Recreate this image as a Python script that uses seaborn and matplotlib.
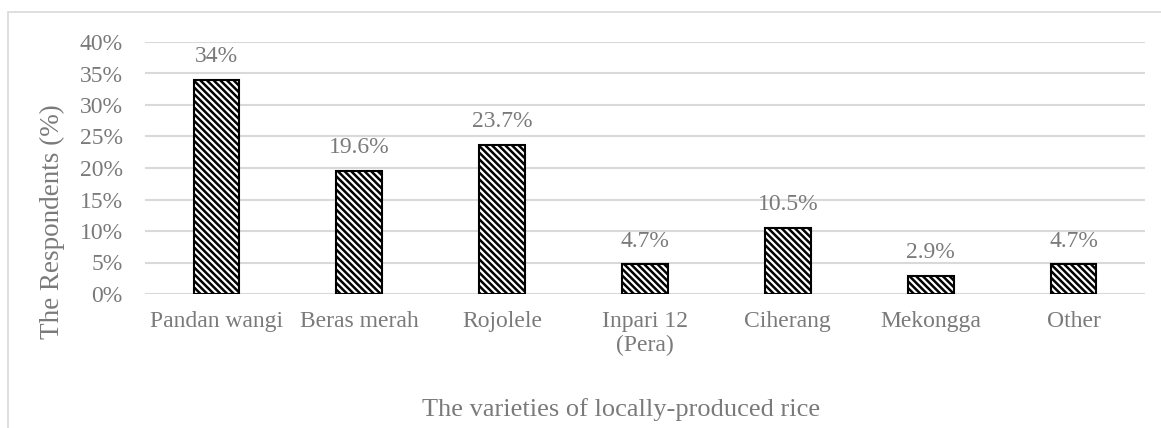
import matplotlib
matplotlib.use("Agg")
import matplotlib.pyplot as plt
import seaborn as sns
import pandas as pd
from matplotlib.patches import Rectangle

categories = ["Pandan wangi", "Beras merah", "Rojolele", "Inpari 12\n(Pera)", "Ciherang", "Mekongga", "Other"]
values = [34.0, 19.6, 23.7, 4.7, 10.5, 2.9, 4.7]
labels = ["34%", "19.6%", "23.7%", "4.7%", "10.5%", "2.9%", "4.7%"]
yticks = [0, 5, 10, 15, 20, 25, 30, 35, 40]

sns.set_theme(style="white")
plt.rcParams['font.family'] = ['Liberation Serif', 'DejaVu Serif']
plt.rcParams['hatch.linewidth'] = 1.8
plt.rcParams['hatch.color'] = 'black'

df = pd.DataFrame({"cat": categories, "val": values})

fig = plt.figure(figsize=(11.61, 4.28), dpi=100)
ax = fig.add_axes([145/1161, 1 - 294/428, 1000/1161, (294-42)/428])

sns.barplot(data=df, x="cat", y="val", ax=ax, color="white", width=0.32,
            edgecolor="black", linewidth=1.5, hatch="\\\\\\\\\\", saturation=1)

txt = "#7a7a7a"
ax.set_ylim(0, 40)
ax.set_xlim(-0.5, len(categories) - 0.5)
ax.set_yticks(yticks)
ax.set_yticklabels([f"{t}%" for t in yticks])
ax.yaxis.grid(True, color="#d9d9d9", linewidth=1.5)
ax.set_axisbelow(True)
for s in ax.spines.values():
    s.set_visible(False)
ax.tick_params(axis="both", length=0, labelsize=17, labelcolor=txt)
ax.tick_params(axis="x", pad=12)
ax.tick_params(axis="y", pad=16)

for i, (v, l) in enumerate(zip(values, labels)):
    ax.annotate(l, (i, v), xytext=(0, 9), textcoords="offset points",
                ha="center", va="bottom", fontsize=17, color=txt)

ax.set_xlabel("")
ax.set_ylabel("")
fig.text(621/1161, 1 - 410/428, "The varieties of locally-produced rice", ha="center", va="center",
         fontsize=19, color=txt)
fig.text(52/1161, 1 - 222/428, "The Respondents (%)", ha="center", va="center", rotation=90,
         fontsize=19.5, color=txt)

border = Rectangle((8/1161, -0.1), 1.2, 1 - 12/428 + 0.1, transform=fig.transFigure,
                   fill=False, edgecolor="#d9d9d9", linewidth=1.2)
fig.patches.append(border)

fig.savefig("out.png", dpi=100, facecolor="white")
